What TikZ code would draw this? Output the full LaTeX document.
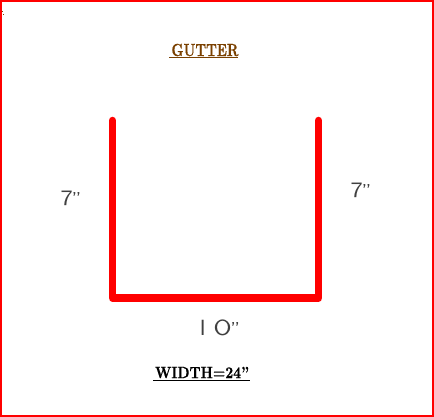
\documentclass[tikz,border=0pt]{standalone}
\usepackage{fontspec}
\usepackage{tikz}
\newfontfamily\titlefont[Extension=.otf,FakeBold=0.6]{lmroman10-bold}
\definecolor[named]{GutterRed}{rgb}{1,0,0}
\definecolor[named]{TitleBrown}{rgb}{0.48,0.25,0}
\definecolor[named]{SizeGray}{rgb}{0.25,0.25,0.25}
\newcommand{\quotemark}{\kern-1pt{\fontsize{17}{17}\selectfont"}}
\tikzset{
  title/.style={inner sep=0pt,font=\titlefont\fontsize{13}{13}\selectfont},
  size/.style={inner sep=0pt,text=SizeGray,xscale=1.3,yscale=1.1,font=\sffamily\fontsize{20}{20}\selectfont},
}
\begin{document}
\begin{tikzpicture}[x=1pt,y=-1pt]
    \useasboundingbox (0,0) rectangle (434,417);

    % Frame
    \draw[GutterRed,line width=2pt] (1,1) rectangle (433,416);

    % Stray marks
    \fill[TitleBrown] (2,11) rectangle (3,12);
    \fill[TitleBrown] (3,14) rectangle (4,15);

    % Profile
    \coordinate (TL) at (112.5,120.5);
    \coordinate (BL) at (112.5,298);
    \coordinate (BR) at (318.5,298);
    \coordinate (TR) at (318.5,120.5);
    \draw[GutterRed,line width=7.5pt,line cap=round,line join=round]
      (TL) -- (BL) -- (BR) -- (TR);

    % Labels
    \node[title,text=TitleBrown,yscale=1.35,xscale=1.03] (G) at (205,50) {GUTTER};
    \coordinate (GL) at (169,58);
    \coordinate (GR) at (238,58);
    \draw[TitleBrown,line width=1pt] (GL) -- (GR);

    \node[size] (L) at (71,198) {7\quotemark};
    \node[size] (R) at (361,190) {7\quotemark};
    \node[size] (B) at (220,328) {l O\quotemark};

    \node[title,text=black,yscale=1.25,xscale=1.06] (W) at (202,372.5) {WIDTH=24”};
    \coordinate (WL) at (153,380);
    \coordinate (WR) at (250,380);
    \draw[black,line width=1pt] (WL) -- (WR);
\end{tikzpicture}
\end{document}
